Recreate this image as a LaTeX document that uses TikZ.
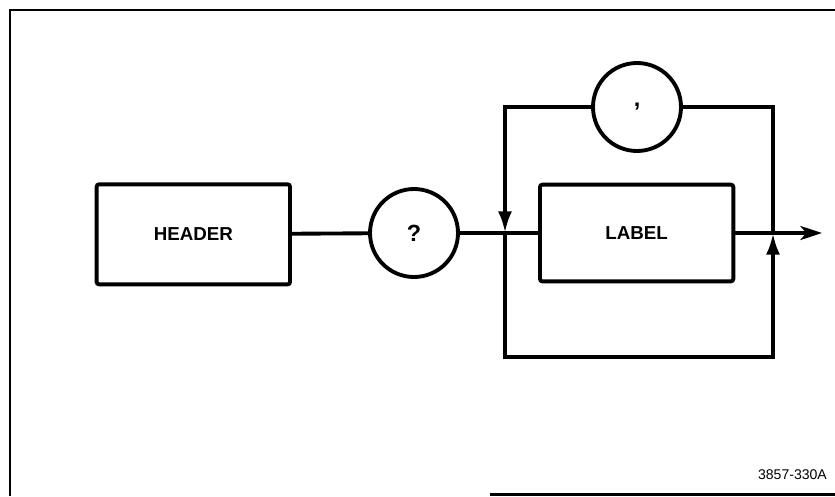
\documentclass[tikz,border=0pt]{standalone}
\usepackage{fontspec}
\setsansfont{Liberation Sans}
\usetikzlibrary{arrows.meta,positioning}

\tikzset{
  box/.style={draw,line width=3.3pt,rounded corners=2pt,minimum width=5.8cm,
    minimum height=3.0cm,font=\sffamily\bfseries\fontsize{16}{19}\selectfont},
  ring/.style={draw,circle,line width=3.3pt,minimum size=2.64cm,
    font=\sffamily\bfseries\fontsize{20}{24}\selectfont},
  flow/.style={line width=3.3pt}
}

\begin{document}
\begin{tikzpicture}[scale=1.0,>={Latex[length=6.5mm,width=4.2mm]}]
  \useasboundingbox (0,0) rectangle (25.05,14.88);
  % frame
  \begin{scope}[line width=2pt]
    \draw (0.3,0) -- (0.3,14.58) -- (25.05,14.58);
    \draw (14.7,0.05) -- (25.05,0.05);
  \end{scope}
  % nodes
  \node[box] (header) at (5.8,7.85) {HEADER};
  \node[ring] (query) at (12.42,7.89) {?};
  \node[box,minimum height=2.9cm] (label) at (19.1,7.89) {LABEL};
  \node[ring] (comma) at (19.11,11.67) {,};
  \coordinate (split) at (15.15,7.89);
  \coordinate (merge) at (23.19,7.89);
  \coordinate (out) at (24.66,7.89);
  \coordinate (bl) at (15.15,4.17);
  \coordinate (br) at (23.19,4.17);
  % main line
  \draw[flow] (header) -- (query);
  \draw[flow] (query) -- (label);
  \draw[flow,-{Stealth[length=6.5mm,width=4.2mm,inset=1.8mm]}] (label) -- (out);
  % repeat loop
  \draw[flow] (merge) |- (comma.east);
  \draw[flow,->] (comma.west) -| (split);
  % bypass
  \draw[flow,->] (split) -- (bl) -- (br) -- (merge);
  % figure number
  \node[anchor=base east,font=\sffamily\fontsize{12}{14}\selectfont] (code) at (24.93,0.51) {3857-330A};
\end{tikzpicture}
\end{document}
